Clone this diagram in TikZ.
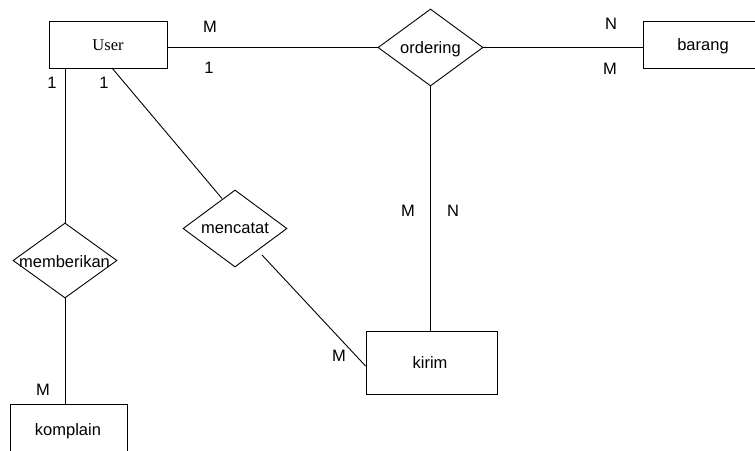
\documentclass[tikz,border=0pt]{standalone}
\usepackage{fontspec}
\setmainfont{Liberation Sans}
\newfontfamily\userfont{Liberation Serif}
\usetikzlibrary{shapes.geometric}

\tikzset{
  entity/.style={draw, line width=0.9pt, rectangle, inner sep=0pt},
  relation/.style={draw, line width=0.9pt, diamond, inner sep=0pt, shape aspect=1},
  conn/.style={line width=0.9pt},
  card/.style={inner sep=0pt, font=\fontsize{16.5}{19}\selectfont},
  txt/.style={inner sep=0pt, font=\fontsize{16.5}{19}\selectfont}
}

\begin{document}
\begin{tikzpicture}[x=1pt, y=-1pt]
  \useasboundingbox (0,0) rectangle (755,450);
  \clip (0,0) rectangle (755,450);
  \fill[white] (0,0) rectangle (755,450);

  % entities
  \node[entity, minimum width=118pt, minimum height=47pt] (User) at (108,44.5) {};
  \node[txt, font=\userfont\fontsize{16.5}{19}\selectfont] (userlbl) at (108,45) {User};
  \node[entity, minimum width=120pt, minimum height=47pt] (barang) at (703,44.5) {};
  \node[txt] (baranglbl) at (703,46) {barang};
  \node[entity, minimum width=131pt, minimum height=63pt] (kirim) at (431.5,362.5) {};
  \node[txt] (kirimlbl) at (430,363) {kirim};
  \node[entity, minimum width=117pt, minimum height=50pt] (komplain) at (68.5,429) {};
  \node[txt] (komplainlbl) at (68,431) {komplain};

  % relationships
  \node[relation, minimum width=105pt, minimum height=77pt] (ordering) at (430.5,47.5) {};
  \node[txt] (orderinglbl) at (430.5,49) {ordering};
  \node[relation, minimum width=104pt, minimum height=77pt] (mencatat) at (235,228.5) {};
  \node[txt] (mencatatlbl) at (235,228.5) {mencatat};
  \node[relation, minimum width=104pt, minimum height=75pt] (memberikan) at (65,260.5) {};
  \node[txt] (memberikanlbl) at (64.5,262) {memberikan};

  % free ends of the slanted links
  \coordinate (um1) at (112,68);
  \coordinate (um2) at (222,198.5);
  \coordinate (mk1) at (262,255);

  % links
  \draw[conn] (ordering.west -| User.east) -- (ordering.west);
  \draw[conn] (ordering.east) -- (ordering.east -| barang.west);
  \draw[conn] (ordering.south) -- (ordering.south |- kirim.north);
  \draw[conn] (User.south -| memberikan.north) -- (memberikan.north);
  \draw[conn] (memberikan.south) -- (memberikan.south |- komplain.north);
  \draw[conn] (um1) -- (um2);
  \draw[conn] (mk1) -- ([yshift=-3.5pt]kirim.west);

  % cardinalities
  \node[card] (c1) at (210,27) {M};
  \node[card] (c2) at (209,68) {1};
  \node[card] (c3) at (611,24) {N};
  \node[card] (c4) at (610,68.5) {M};
  \node[card] (c5) at (52,83) {1};
  \node[card] (c6) at (104,83) {1};
  \node[card] (c7) at (408,211) {M};
  \node[card] (c8) at (453,211) {N};
  \node[card] (c9) at (43,390) {M};
  \node[card] (c10) at (339,356) {M};
\end{tikzpicture}
\end{document}
